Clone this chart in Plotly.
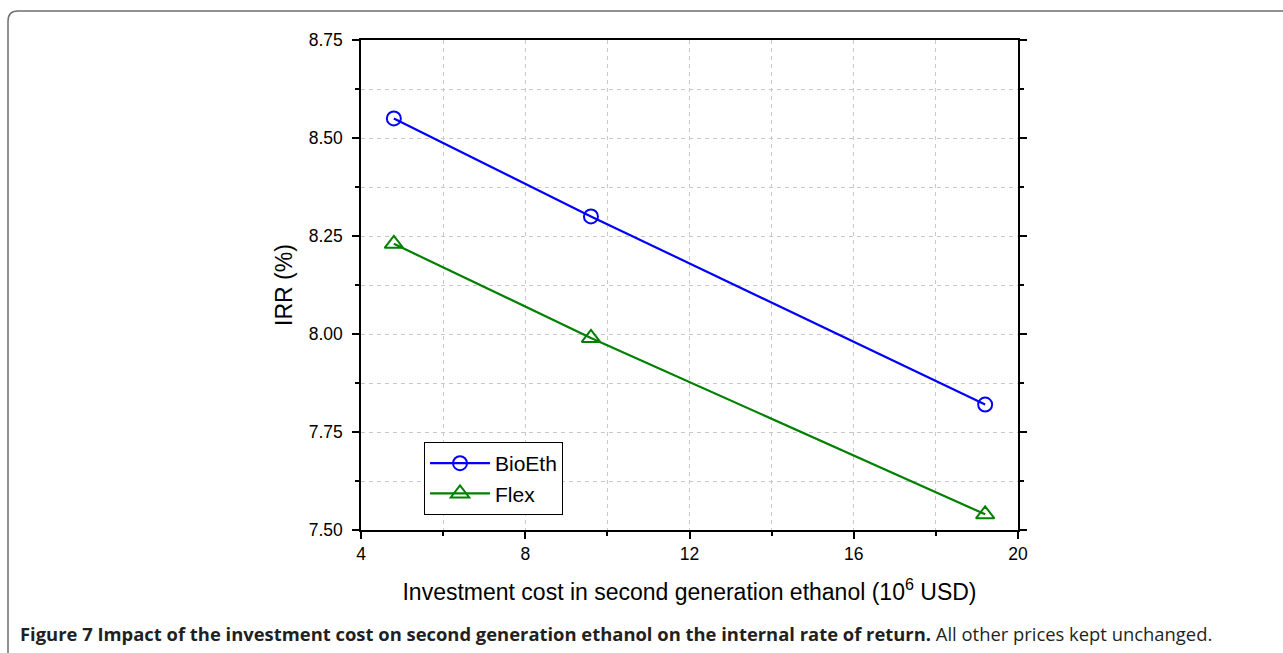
import plotly.graph_objects as go

invest_cost = [4.8, 9.6, 19.2]
irr_bioeth = [8.55, 8.30, 7.82]
irr_flex = [8.23, 7.99, 7.54]
x_ticks = [4, 8, 12, 16, 20]
y_ticks = [7.50, 7.75, 8.00, 8.25, 8.50, 8.75]
y_tick_labels = ["7.50", "7.75", "8.00", "8.25", "8.50", "8.75"]

W, H = 1283, 653
L, R, T, B = 361, 1018, 40, 530

fig = go.Figure()
fig.add_trace(go.Scatter(
    x=invest_cost, y=irr_bioeth, name="BioEth", mode="lines+markers",
    line=dict(color="#0000ff", width=2.2),
    marker=dict(symbol="circle-open", size=14, color="#0000ff", line=dict(width=2))))
fig.add_trace(go.Scatter(
    x=invest_cost, y=irr_flex, name="Flex", mode="lines+markers",
    line=dict(color="#008000", width=2.2),
    marker=dict(symbol="triangle-up-open", size=16, color="#008000", line=dict(width=2))))

FAM = "Liberation Sans, Arial, sans-serif"
axfont = dict(family=FAM, size=17.5, color="black")
grid = dict(gridcolor="#c8c8c8", griddash="4px,4px", gridwidth=1)

fig.update_xaxes(
    range=[4, 20], tickvals=x_ticks, ticktext=[str(v) for v in x_ticks],
    showline=True, linecolor="black", linewidth=1.5, mirror=True,
    ticks="outside", ticklen=7, tickwidth=1.5, tickcolor="black",
    tickfont=axfont, showgrid=True, zeroline=False, **grid,
    minor=dict(dtick=2, tick0=4, ticks="outside", ticklen=4, tickwidth=1.5,
               tickcolor="black", showgrid=True, **grid),
    title=dict(text="Investment cost in second generation ethanol (10<sup>6</sup> USD)",
               font=dict(family=FAM, size=23, color="black"),
               standoff=21),
)
fig.update_yaxes(
    range=[7.5, 8.75], tickvals=y_ticks, ticktext=y_tick_labels,
    showline=True, linecolor="black", linewidth=1.5, mirror="ticks",
    ticks="outside", ticklen=7, tickwidth=1.5, tickcolor="black",
    tickfont=axfont, showgrid=True, zeroline=False, **grid,
    ticklabelstandoff=6,
    minor=dict(dtick=0.125, tick0=7.5, ticks="outside", ticklen=4, tickwidth=1.5,
               tickcolor="black", showgrid=True, **grid),
    title=dict(text="IRR (%)",
               font=dict(family=FAM, size=23, color="black"),
               standoff=10),
)

pw, ph = R - L, B - T
def px(x):
    return (x - L) / pw
def py(y):
    return (B - y) / ph

# figure frame with rounded top-left corner
fx, fy, rad = 8, 11, 10
path = (f"M {px(fx)},{py(H+5)} L {px(fx)},{py(fy+rad)} "
        f"Q {px(fx)},{py(fy)} {px(fx+rad)},{py(fy)} L {px(W+5)},{py(fy)}")
fig.add_shape(type="path", path=path, xref="paper", yref="paper",
              line=dict(color="#6e6e6e", width=1.5))

fig.add_annotation(
    xref="paper", yref="paper", x=px(18), y=py(633), xanchor="left", yanchor="middle",
    showarrow=False, align="left",
    text="<b>Figure 7 Impact of the investment cost on second generation ethanol on the internal rate of return.</b> All other prices kept unchanged.",
    font=dict(family="Open Sans, Noto Sans, sans-serif", size=18.4, color="#231f20"))

fig.update_layout(
    width=W, height=H, margin=dict(l=L, r=W - R, t=T, b=H - B),
    paper_bgcolor="white", plot_bgcolor="white",
    showlegend=True,
    legend=dict(x=px(424), y=py(442), xanchor="left", yanchor="top",
                bordercolor="black", borderwidth=1, bgcolor="white",
                font=dict(family=FAM, size=21, color="black"),
                itemwidth=60, tracegroupgap=0),
)

fig.write_html("out.html")
